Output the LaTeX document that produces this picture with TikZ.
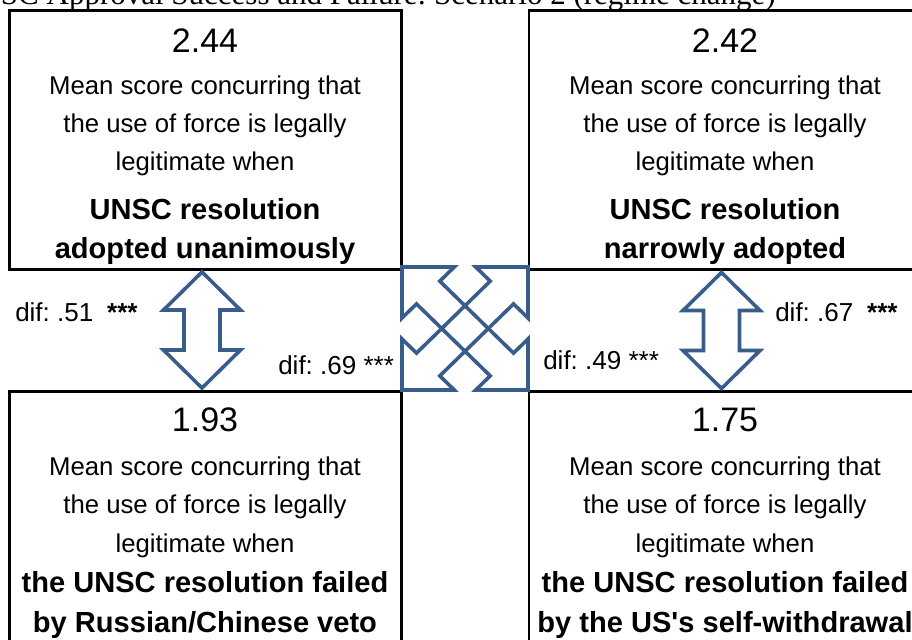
\documentclass[tikz,border=0pt]{standalone}
\usepackage{fontspec}
\setmainfont{Liberation Sans}
\newfontfamily\titlefont{Liberation Serif}
\definecolor{arrowblue}{RGB}{56,93,138}
\frenchspacing

\tikzset{
  box/.style={draw, line width=2pt, minimum width=294.15pt, minimum height=194.1pt, inner sep=0pt},
  num/.style={anchor=base, inner sep=0pt, font=\fontsize{25.5pt}{30pt}\selectfont},
  txt/.style={anchor=base, inner sep=0pt, font=\fontsize{19.3pt}{24pt}\selectfont},
  bld/.style={anchor=base, inner sep=0pt, font=\fontsize{21.8pt}{26pt}\selectfont\bfseries},
  dif/.style={anchor=base west, inner sep=0pt, font=\fontsize{19.5pt}{24pt}\selectfont},
  arrowline/.style={draw=arrowblue, line width=2.7pt, line join=miter},
  dblarrow/.pic={
    \path[arrowline, fill=white] (0,-58) -- (38.5,-20) -- (18,-20) -- (18,20) -- (38.5,20) -- (0,58)
      -- (-38.5,20) -- (-18,20) -- (-18,-20) -- (-38.5,-20) -- cycle;
  }
}

\begin{document}
\begin{tikzpicture}[x=0.75pt, y=-0.75pt]
    \useasboundingbox (0,0) rectangle (912,639);
    \clip (0,0) rectangle (912,639);

    % title, cut off by the page
    \node[anchor=base east, inner sep=0pt, font=\titlefont\fontsize{23.25pt}{28pt}\selectfont] (title) at (776,4)
      {SC Approval Success and Failure: Scenario 2 (regime change)};

    % the four boxes
    \node[box] (ul) at (205.4,140.1) {};
    \node[box] (ur) at (725.1,140.1) {};
    \node[box] (ll) at (205.4,520.9) {};
    \node[box] (lr) at (725.1,520.9) {};

    \node[num] (ulnum) at (205,52) {2.44};
    \node[txt] (ul1) at (205,94) {Mean score concurring that};
    \node[txt] (ul2) at (205,132) {the use of force is legally};
    \node[txt] (ul3) at (205,170) {legitimate when};
    \node[bld] (ul4) at (205,219) {UNSC resolution};
    \node[bld] (ul5) at (205,258) {adopted unanimously};

    \node[num] (urnum) at (725,52) {2.42};
    \node[txt] (ur1) at (725,94) {Mean score concurring that};
    \node[txt] (ur2) at (725,132) {the use of force is legally};
    \node[txt] (ur3) at (725,170) {legitimate when};
    \node[bld] (ur4) at (725,219) {UNSC resolution};
    \node[bld] (ur5) at (725,258) {narrowly adopted};

    \node[num] (llnum) at (205,431) {1.93};
    \node[txt] (ll1) at (205,475) {Mean score concurring that};
    \node[txt] (ll2) at (205,513) {the use of force is legally};
    \node[txt] (ll3) at (205,552) {legitimate when};
    \node[bld] (ll4) at (205,592) {the UNSC resolution failed};
    \node[bld] (ll5) at (205,632) {by Russian/Chinese veto};

    \node[num] (lrnum) at (725,431) {1.75};
    \node[txt] (lr1) at (725,475) {Mean score concurring that};
    \node[txt] (lr2) at (725,513) {the use of force is legally};
    \node[txt] (lr3) at (725,552) {legitimate when};
    \node[bld] (lr4) at (725,592) {the UNSC resolution failed};
    \node[bld] (lr5) at (725,632) {by the US\textquotesingle s self-withdrawal};

    % arrows between the boxes
    \pic at (202,330) {dblarrow};
    \pic at (721.5,330.5) {dblarrow};
    \coordinate (mid) at (465,328.5);
    \begin{scope}[shift={(mid)}, xscale=63, yscale=61.5]
      \foreach \s in {1,-1}
        \fill[white, xscale=\s] (-1,1) -- (-0.17,1) -- (-0.4,0.77) -- (0.77,-0.4) -- (1,-0.17)
          -- (1,-1) -- (0.17,-1) -- (0.4,-0.77) -- (-0.77,0.4) -- (-1,0.17) -- cycle;
      \foreach \s in {1,-1}
        \draw[arrowline, xscale=\s] (-1,1) -- (-0.17,1) -- (-0.4,0.77) -- (0.77,-0.4) -- (1,-0.17)
          -- (1,-1) -- (0.17,-1) -- (0.4,-0.77) -- (-0.77,0.4) -- (-1,0.17) -- cycle;
    \end{scope}

    \node[dif] (d51) at (15,321) {dif: .51 \hspace{5pt}\textbf{***}};
    \node[dif] (d69) at (278,374) {dif: .69 ***};
    \node[dif] (d67) at (775,321) {dif: .67 \hspace{5pt}\textbf{***}};
    \node[dif] (d49) at (543,369) {dif: .49 ***};
\end{tikzpicture}
\end{document}
